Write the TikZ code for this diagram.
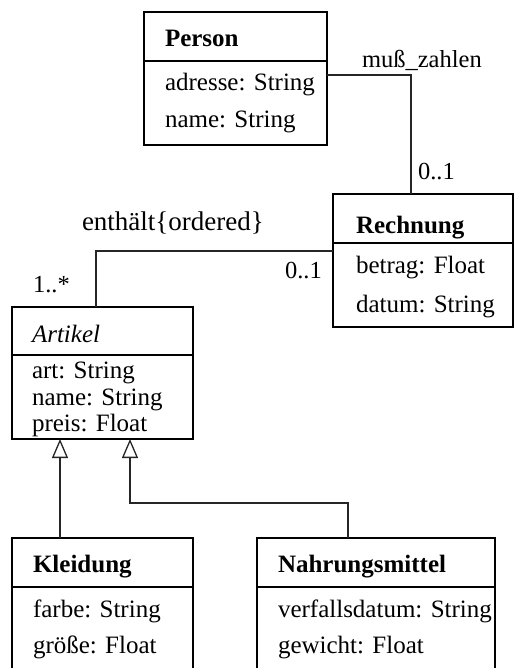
\documentclass[tikz,border=0pt]{standalone}
\usepackage{fontspec}
\setmainfont{Liberation Serif}
\usetikzlibrary{arrows.meta}
\tikzset{
  cls/.style={draw, line width=1.3pt, inner sep=0pt, outer sep=0pt, anchor=north west},
  sep/.style={line width=1.3pt},
  txt/.style={inner sep=0pt, outer sep=0pt, anchor=base west, font=\fontsize{25}{30}\selectfont},
  lbl/.style={inner sep=0pt, outer sep=0pt, anchor=base west, font=\fontsize{24.5}{30}\selectfont},
  assoc/.style={line width=1.3pt, draw=black!85},
  gen/.style={line width=1.3pt, draw=black!85, -{Triangle[open, length=19pt, width=16pt, line width=1.3pt]}},
}
\begin{document}
\begin{tikzpicture}[x=1pt, y=-1pt]
\useasboundingbox (0,0) rectangle (514,668);
\clip (0,0) rectangle (514,668);
\fill[white] (0,0) rectangle (514,668);

% Person
\node[cls, minimum width=183pt, minimum height=133pt] (person) at (144,12) {};
\draw[sep] (person.west |- 0,61) -- (person.east |- 0,61);
\node[txt] (personT) at (165,47) {\textbf{Person}};
\node[txt] (personA1) at (165,91) {adresse: String};
\node[txt] (personA2) at (165,128) {name: String};

% Rechnung
\node[cls, minimum width=180pt, minimum height=133pt] (rechnung) at (333,194) {};
\draw[sep] (rechnung.west |- 0,243) -- (rechnung.east |- 0,243);
\node[txt] (rechnungT) at (356,233) {\textbf{Rechnung}};
\node[txt] (rechnungA1) at (356,273) {betrag: Float};
\node[txt] (rechnungA2) at (356,312) {datum: String};

% Artikel
\node[cls, minimum width=181pt, minimum height=132pt] (artikel) at (12,307) {};
\draw[sep] (artikel.west |- 0,355) -- (artikel.east |- 0,355);
\node[txt] (artikelT) at (32,342) {\textit{Artikel}};
\node[txt] (artikelA1) at (32,378) {art: String};
\node[txt] (artikelA2) at (32,405) {name: String};
\node[txt] (artikelA3) at (32,431) {preis: Float};

% Kleidung
\node[cls, minimum width=181pt, minimum height=170pt] (kleidung) at (12,538) {};
\draw[sep] (kleidung.west |- 0,587) -- (kleidung.east |- 0,587);
\node[txt] (kleidungT) at (33,572) {\textbf{Kleidung}};
\node[txt] (kleidungA1) at (33,617) {farbe: String};
\node[txt] (kleidungA2) at (33,653) {größe: Float};

% Nahrungsmittel
\node[cls, minimum width=238pt, minimum height=170pt] (nahrung) at (257,538) {};
\draw[sep] (nahrung.west |- 0,587) -- (nahrung.east |- 0,587);
\node[txt] (nahrungT) at (278,572) {\textbf{Nahrungsmittel}};
\node[txt] (nahrungA1) at (278,617) {verfallsdatum: String};
\node[txt] (nahrungA2) at (278,653) {gewicht: Float};

% association muß_zahlen
\coordinate (mz) at (411,75);
\draw[assoc] (person.east |- mz) -- (mz) -- (rechnung.north -| mz);
\node[lbl] (mzL) at (362,68) {muß\_zahlen};
\node[lbl] (mzM) at (418,180) {0..1};

% association enthält
\coordinate (en) at (96,251);
\draw[assoc] (rechnung.west |- en) -- (en) -- (artikel.north -| en);
\node[lbl, font=\fontsize{27}{32}\selectfont] (enL) at (82,230) {enthält\{ordered\}};
\node[lbl] (enM1) at (33,292) {1..*};
\node[lbl] (enM2) at (285,278) {0..1};

% generalizations
\coordinate (g1) at (60,480);
\draw[gen] (kleidung.north -| g1) -- (artikel.south -| g1);
\coordinate (g2) at (130,503);
\coordinate (g2b) at (348,503);
\draw[gen] (nahrung.north -| g2b) -- (g2b) -- (g2) -- (artikel.south -| g2);
\end{tikzpicture}
\end{document}
